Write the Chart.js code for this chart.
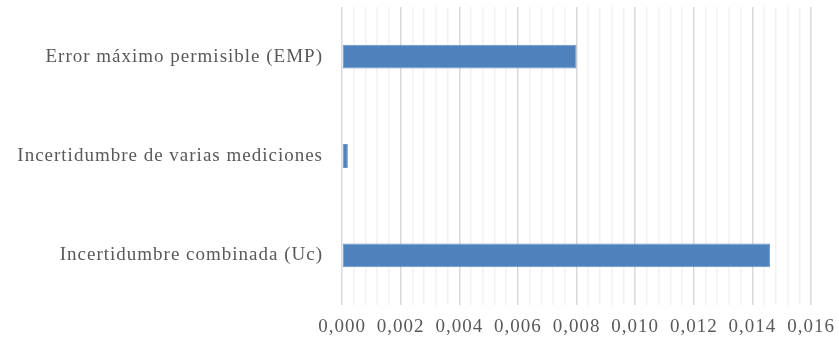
<!DOCTYPE html>
<html>
<head>
<meta charset="utf-8">
<script src="https://cdn.jsdelivr.net/npm/chart.js@4"></script>
<style>
  html, body { margin: 0; padding: 0; background: #fff; }
  #wrap { width: 839px; height: 342px; position: relative; }
</style>
</head>
<body>
<div id="wrap"><canvas id="chart"></canvas></div>
<script>
// Data
const categories = [
  "Error máximo permisible (EMP)",
  "Incertidumbre de varias mediciones",
  "Incertidumbre combinada (Uc)",
];
const values = [0.008, 0.0002, 0.0146];
const xTickMax = 0.016;
const xStep = 0.0004; // minor grid step, labels every 5th

const textColor = "#595959";
const serif = "'Liberation Serif', 'DejaVu Serif', serif";

// a bit of tracking, like the original Garamond text
const spacing = {
  id: "spacing",
  beforeUpdate: (chart) => { chart.ctx.letterSpacing = "1px"; },
  beforeDraw: (chart) => { chart.ctx.letterSpacing = "1px"; },
};

new Chart(document.getElementById("chart"), {
  type: "bar",
  data: {
    labels: categories,
    datasets: [
      {
        data: values,
        backgroundColor: "#4f81bd",
        borderColor: "#6a95c8",
        borderWidth: 1,
        borderSkipped: false,
        categoryPercentage: 1,
        barPercentage: 0.24,
      },
    ],
  },
  options: {
    indexAxis: "y",
    responsive: true,
    maintainAspectRatio: false,
    animation: false,
    layout: { padding: { left: 0, right: 28, top: 7, bottom: 0 } },
    plugins: { legend: { display: false }, tooltip: { enabled: false } },
    scales: {
      x: {
        min: 0,
        max: xTickMax,
        border: { display: false },
        grid: {
          drawTicks: false,
          color: (ctx) => (ctx.index % 5 === 0 ? "#d9d9d9" : "#f2f2f2"),
          lineWidth: 1.5,
        },
        ticks: {
          stepSize: xStep,
          autoSkip: false,
          maxRotation: 0,
          padding: 11,
          color: textColor,
          font: { family: serif, size: 19 },
          callback: (v, i) =>
            i % 5 === 0 ? v.toFixed(3).replace(".", ",") : "",
        },
        afterFit: (scale) => {
          scale.height = 37;
          scale.paddingLeft = 0;
          scale.paddingRight = 0;
        },
      },
      y: {
        border: { display: false },
        grid: { display: false, drawTicks: false },
        ticks: {
          padding: 19,
          color: textColor,
          font: { family: serif, size: 19 },
        },
        afterFit: (scale) => {
          scale.width = 342;
          scale.paddingTop = 0;
          scale.paddingBottom = 0;
        },
      },
    },
  },
  plugins: [spacing],
});
</script>
</body>
</html>
